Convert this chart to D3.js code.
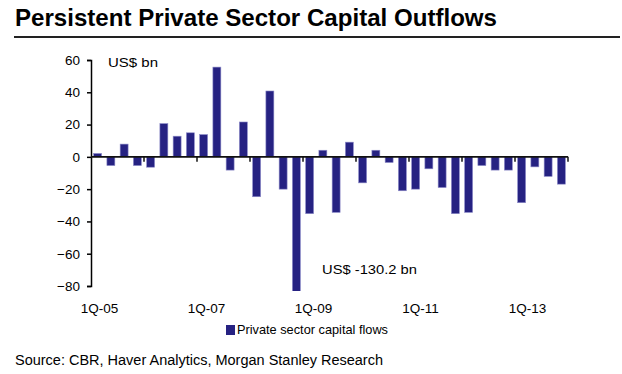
<!DOCTYPE html>
<html>
<head>
<meta charset="utf-8">
<script src="https://cdn.jsdelivr.net/npm/d3@7"></script>
<style>
body { margin: 0; background: #fff; }
text { font-family: "Liberation Sans", Arial, sans-serif; fill: #000; }
</style>
</head>
<body>
<div id="chart"></div>
<script>
// quarterly private sector capital flows, US$ bn (1Q-05 .. 4Q-13)
var quarters = [];
[5,6,7,8,9,10,11,12,13].forEach(function(yr){
    for (var q = 1; q <= 4; q++) quarters.push(q + "Q-" + (yr < 10 ? "0" + yr : yr));
});
var flows = [2.1, -5.4, 7.9, -5.4, -6.4, 20.6, 12.8, 14.9, 13.8, 55.6, -8.2, 21.6,
             -24.7, 40.8, -20, -130.2, -35.2, 4.1, -34.4, 9.1, -16.1, 4.1, -3.5, -21,
             -20, -7.4, -19, -35.2, -34.4, -5.4, -8.2, -8.2, -28.4, -6.2, -12.1, -16.9];
var yTicks = [60, 40, 20, 0, -20, -40, -60, -80];
var xLabels = ["1Q-05", "1Q-07", "1Q-09", "1Q-11", "1Q-13"];

var width = 622, height = 374;
var plot = {left: 91, right: 568, top: 60, bottom: 286};
var barColor = "#262282";

var svg = d3.select("#chart").append("svg")
    .attr("width", width)
    .attr("height", height);

// text helper: font size for height, textLength for width
function label(x, y, str, size, len) {
    var t = svg.append("text")
        .attr("x", x).attr("y", y)
        .style("font-size", size + "px")
        .text(str);
    if (len) t.attr("textLength", len).attr("lengthAdjust", "spacingAndGlyphs");
    return t;
}

// title + rule
label(15, 26, "Persistent Private Sector Capital Outflows", 24, 482)
    .style("font-weight", "bold");
svg.append("line")
    .attr("x1", 14).attr("x2", 620)
    .attr("y1", 37).attr("y2", 37)
    .style("stroke", "#222").style("stroke-width", 2);

var x = d3.scaleBand()
    .domain(quarters)
    .range([plot.left, plot.right])
    .paddingInner(0.4)
    .paddingOuter(0.2);

var y = d3.scaleLinear()
    .domain([-80, 60])
    .range([plot.bottom, plot.top]);

// clip so the -130.2 bar is cut just below the axis
svg.append("clipPath").attr("id", "clip")
    .append("rect")
    .attr("x", plot.left).attr("y", plot.top)
    .attr("width", plot.right - plot.left)
    .attr("height", plot.bottom - plot.top + 5);

svg.append("g")
    .attr("clip-path", "url(#clip)")
    .selectAll("rect")
    .data(flows)
    .enter().append("rect")
    .attr("x", function(d, i) { return x(quarters[i]); })
    .attr("width", x.bandwidth())
    .attr("y", function(d) { return y(Math.max(0, d)); })
    .attr("height", function(d) { return Math.abs(y(d) - y(0)); })
    .style("fill", barColor)
    .style("stroke", "#8c8ac8")
    .style("stroke-width", 0.6);

// y axis
var yAxis = d3.axisLeft(y).tickValues(yTicks).tickSize(4).tickPadding(7);
var gY = svg.append("g")
    .attr("transform", "translate(" + plot.left + ",0)")
    .call(yAxis);
gY.select(".domain").style("stroke", "#000").style("stroke-width", 1.5);
gY.selectAll(".tick line").style("stroke", "#000").style("stroke-width", 1.5);
gY.selectAll("text").style("font-size", "13.5px").style("fill", "#000")
    .style("font-family", "'Liberation Sans', Arial, sans-serif");

// zero line with yearly ticks
var yearTicks = quarters.filter(function(d, i) { return i % 4 === 0 && i > 0; });
svg.append("line")
    .attr("x1", plot.left).attr("x2", plot.right)
    .attr("y1", y(0)).attr("y2", y(0))
    .style("stroke", "#111").style("stroke-width", 1.6);
svg.selectAll(".yt")
    .data(yearTicks.concat(["end"]))
    .enter().append("line")
    .attr("x1", function(d) { return d === "end" ? plot.right : x(d) - x.step() * x.paddingInner() / 2; })
    .attr("x2", function(d) { return d === "end" ? plot.right : x(d) - x.step() * x.paddingInner() / 2; })
    .attr("y1", y(0)).attr("y2", y(0) + 5)
    .style("stroke", "#111").style("stroke-width", 1.5);

// x labels under the first quarter of each labelled year
svg.selectAll(".xl")
    .data(xLabels)
    .enter().append("text")
    .attr("x", function(d, i) { return x(d) + x.bandwidth() / 2 + 2 + i; })
    .attr("y", 313)
    .attr("text-anchor", "middle")
    .style("font-size", "13.5px")
    .text(function(d) { return d; });

// annotations
label(108, 67, "US$ bn", 13.5, 50);
label(322, 274, "US$ -130.2 bn", 13.5, 95);

// legend
svg.append("rect")
    .attr("x", 226).attr("y", 325)
    .attr("width", 9).attr("height", 10)
    .style("fill", barColor);
label(237, 334, "Private sector capital flows", 13.5, 151);

// source
label(15, 365, "Source: CBR, Haver Analytics, Morgan Stanley Research", 14, 368);
</script>
</body>
</html>
